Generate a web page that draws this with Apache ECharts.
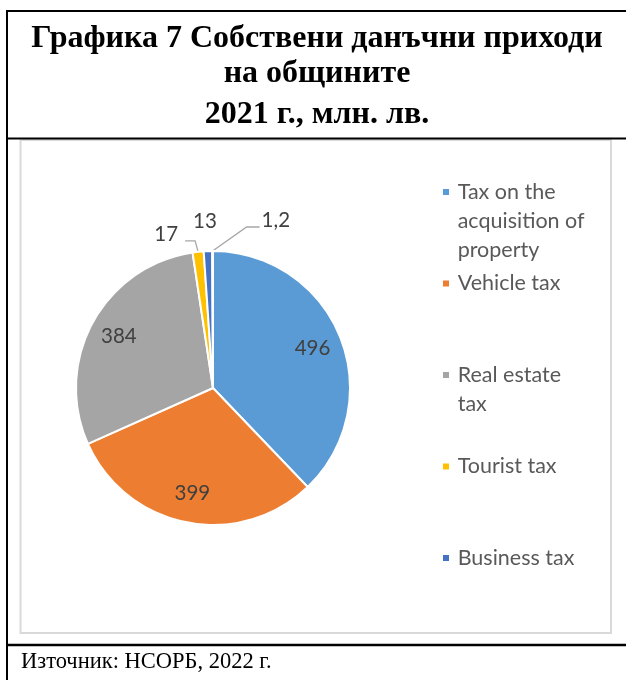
<!DOCTYPE html>
<html><head><meta charset="utf-8">
<script src="https://cdn.jsdelivr.net/npm/echarts@6/dist/echarts.min.js"></script>
<style>html,body{margin:0;padding:0;background:#fff}#c{width:626px;height:680px}</style>
</head><body><div id="c"></div>
<script>
const titleLines = ['Графика 7 Собствени данъчни приходи', 'на общините'];
const titleSub = '2021 г., млн. лв.';
const sourceText = 'Източник: НСОРБ, 2022 г.';
const categories = ['Tax on the acquisition of property', 'Vehicle tax', 'Real estate tax', 'Tourist tax', 'Business tax', 'Other'];
const legendLabels = ['Tax on the\nacquisition of\nproperty', 'Vehicle tax', 'Real estate\ntax', 'Tourist tax', 'Business tax'];
const values = [496, 399, 384, 17, 13, 1.2];
const colors = ['#5B9BD5', '#ED7D31', '#A5A5A5', '#FFC000', '#4472C4', '#70AD47'];
const smallIdx = [3, 4, 5];

const CX = 213, CY = 388, R = 137;
const L = 29;

const chart = echarts.init(document.getElementById('c'), null, {renderer: 'canvas'});

const data = categories.map((name, i) => {
  const item = {name: name, value: values[i], itemStyle: {color: colors[i]}};
  if (smallIdx.indexOf(i) >= 0) {
    item.label = {position: 'outside'};
    item.labelLine = {show: true, length: 10, length2: 10};
    if (i === 4) item.labelLine.lineStyle = {opacity: 0};
  }
  return item;
});

const legends = legendLabels.map((lab, i) => {
  const lines = lab.split('\n').map(s => '\u2009' + s);
  const n = lines.length;
  const H = (2 * n - 1) * L;
  const padded = new Array(n - 1).fill(' ').concat(lines).join('\n');
  return {
    orient: 'vertical', left: 441, top: 192 + i * 91.5 - H / 2, padding: 0,
    data: [categories[i]], itemWidth: 8, itemHeight: 8, icon: 'rect', selectedMode: false,
    formatter: () => padded,
    textStyle: {fontFamily: 'Lato', fontSize: 21.5, color: '#595959', lineHeight: L}
  };
});

const option = {
  animation: false,
  backgroundColor: '#fff',
  title: {
    text: titleLines.join('\n'),
    subtext: titleSub,
    left: 317, textAlign: 'center', top: 21.5, itemGap: 6, padding: 0,
    textStyle: {fontFamily: 'Liberation Serif', fontWeight: 'bold', fontSize: 32, lineHeight: 35, color: '#000'},
    subtextStyle: {fontFamily: 'Liberation Serif', fontWeight: 'bold', fontSize: 32, lineHeight: 35, color: '#000'}
  },
  legend: legends,
  graphic: [
    {type: 'rect', shape: {x: 20.5, y: 140, width: 590.5, height: 493}, style: {fill: 'none', stroke: '#D9D9D9', lineWidth: 2}, z: 0},
    {type: 'line', shape: {x1: 7, y1: 11, x2: 626, y2: 11}, style: {stroke: '#000', lineWidth: 2}},
    {type: 'line', shape: {x1: 7, y1: 10, x2: 7, y2: 680}, style: {stroke: '#000', lineWidth: 2}},
    {type: 'line', shape: {x1: 7, y1: 138.5, x2: 626, y2: 138.5}, style: {stroke: '#000', lineWidth: 2}},
    {type: 'line', shape: {x1: 7, y1: 645, x2: 626, y2: 645}, style: {stroke: '#000', lineWidth: 2.5}},
    {type: 'text', x: 21, y: 662, style: {text: sourceText, fontFamily: 'Liberation Serif', fontSize: 22.5, fill: '#000', verticalAlign: 'middle'}}
  ],
  series: [{
    type: 'pie',
    center: [CX, CY],
    radius: [0, R],
    startAngle: 90,
    clockwise: true,
    avoidLabelOverlap: false,
    itemStyle: {borderColor: '#fff', borderWidth: 2},
    label: {
      show: true, position: 'inside',
      fontFamily: 'Lato', fontSize: 20.5, color: '#404040',
      formatter: p => String(p.value).replace('.', ',')
    },
    labelLine: {show: false, lineStyle: {color: '#A6A6A6', width: 1.3}},
    emphasis: {disabled: true},
    labelLayout: function (p) {
      const i = p.dataIndex;
      const pts = p.labelLinePoints;
      if (i === 3 && pts) {
        const a = pts[0], b = [a[0] - 3, a[1] - 11], c = [b[0] - 10, b[1]];
        return {x: c[0] - 7, y: c[1] - 6, align: 'right', verticalAlign: 'middle', labelLinePoints: [a, b, c]};
      }
      if (i === 4 && pts) {
        const a = pts[0];
        return {x: a[0] - 3, y: a[1] - 30, align: 'center', verticalAlign: 'middle'};
      }
      if (i === 5 && pts) {
        const a = pts[0], b = [a[0] + 34, a[1] - 24], c = [b[0] + 13, b[1]];
        return {x: c[0] + 2, y: c[1] - 7, align: 'left', verticalAlign: 'middle', labelLinePoints: [a, b, c]};
      }
      if (smallIdx.indexOf(i) >= 0) return {};
      const r = p.labelRect;
      const vx = r.x + r.width / 2 - CX, vy = r.y + r.height / 2 - CY;
      const k = 0.5;
      return {dx: vx * k, dy: vy * k};
    },
    data: data
  }]
};
chart.setOption(option);
</script></body></html>
